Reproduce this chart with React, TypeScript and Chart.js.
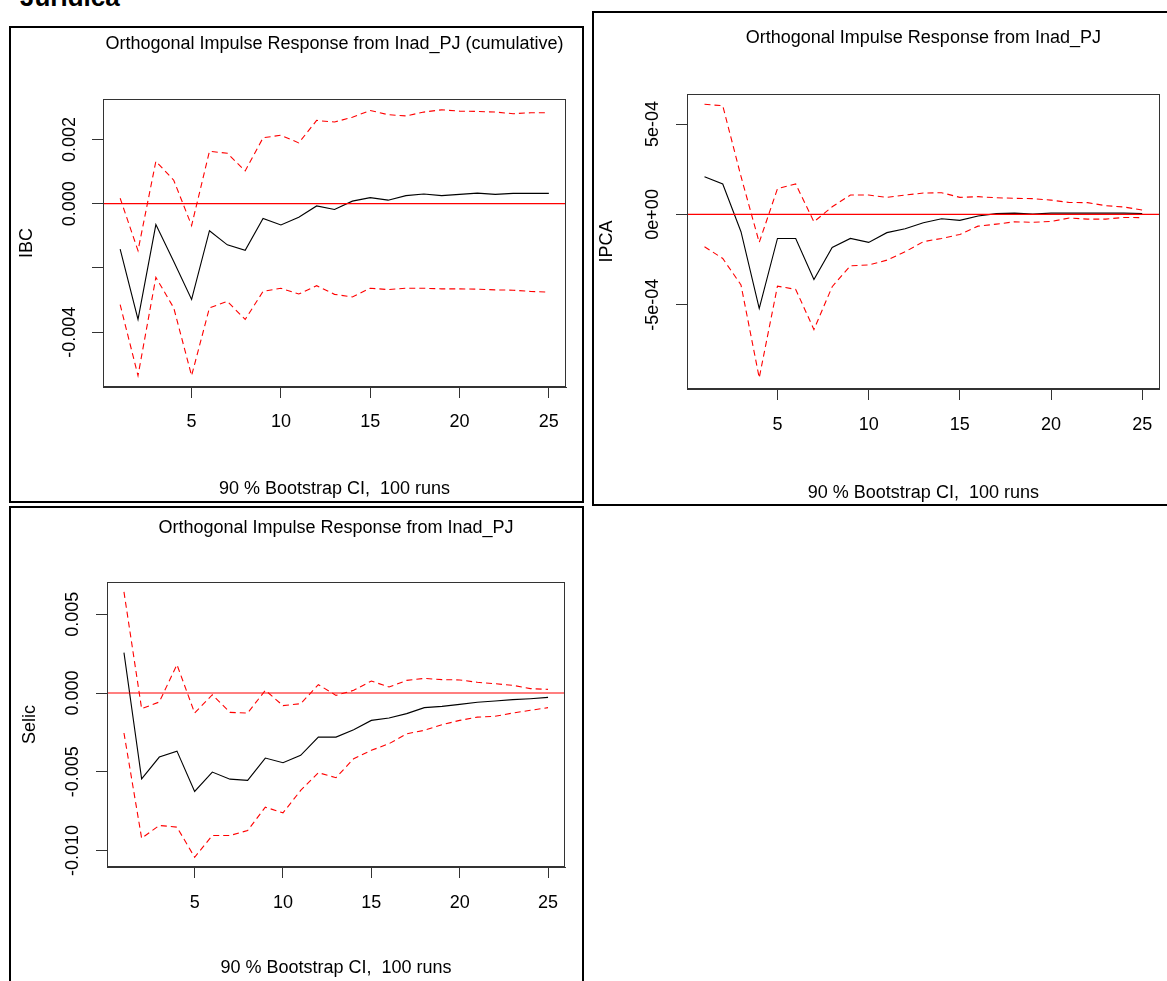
import React, { useEffect, useRef } from 'react';
import { Chart, registerables } from 'chart.js';

Chart.register(...registerables);

const FONT = '"Liberation Sans", Arial, sans-serif';
Chart.defaults.font.family = FONT;
Chart.defaults.color = '#000';

// ---- data ----
const horizons = [1, 2, 3, 4, 5, 6, 7, 8, 9, 10, 11, 12, 13, 14, 15, 16, 17, 18, 19, 20, 21, 22, 23, 24, 25];
const xTicks = [5, 10, 15, 20, 25];
const xLimits = [0.04, 25.96];

const ibcResp = [-0.00141, -0.0036, -0.00065, -0.0018, -0.00298, -0.00084, -0.00128, -0.00145, -0.00046, -0.00066, -0.00042, -0.00007, -0.00018, 0.00008, 0.00019, 0.00011, 0.00025, 0.0003, 0.00025, 0.00029, 0.00033, 0.00029, 0.00032, 0.00032, 0.00032];
const ibcUpper = [0.00017, -0.00146, 0.00132, 0.00073, -0.00068, 0.00163, 0.00157, 0.00102, 0.00205, 0.00213, 0.00189, 0.00259, 0.00254, 0.00269, 0.0029, 0.00277, 0.00273, 0.00285, 0.00292, 0.00288, 0.00287, 0.00285, 0.0028, 0.00283, 0.00283];
const ibcLower = [-0.00314, -0.00535, -0.00229, -0.00324, -0.00535, -0.00324, -0.00304, -0.0036, -0.00273, -0.00263, -0.00281, -0.00255, -0.00282, -0.0029, -0.00263, -0.00267, -0.00263, -0.00263, -0.00265, -0.00265, -0.00266, -0.00268, -0.00269, -0.00273, -0.00275];
const ibcYTicks = [-0.004, -0.002, 0, 0.002];
const ibcYTickLabels = ['-0.004', '', '0.000', '0.002'];
const ibcYLimits = [-0.005702, 0.003257];

const ipcaResp = [2.08e-4, 1.68e-4, -0.96e-4, -5.2e-4, -1.33e-4, -1.33e-4, -3.6e-4, -1.83e-4, -1.33e-4, -1.55e-4, -1.01e-4, -0.79e-4, -0.46e-4, -0.24e-4, -0.33e-4, -0.09e-4, 0.04e-4, 0.07e-4, 0.02e-4, 0.07e-4, 0.07e-4, 0.07e-4, 0.07e-4, 0.07e-4, 0.05e-4];
const ipcaUpper = [6.09e-4, 6.01e-4, 2.1e-4, -1.55e-4, 1.42e-4, 1.68e-4, -0.41e-4, 0.42e-4, 1.07e-4, 1.07e-4, 0.94e-4, 1.07e-4, 1.18e-4, 1.2e-4, 0.94e-4, 0.98e-4, 0.92e-4, 0.89e-4, 0.87e-4, 0.79e-4, 0.66e-4, 0.65e-4, 0.48e-4, 0.41e-4, 0.24e-4];
const ipcaLower = [-1.79e-4, -2.44e-4, -3.9e-4, -9.04e-4, -3.97e-4, -4.15e-4, -6.37e-4, -4.0e-4, -2.84e-4, -2.8e-4, -2.53e-4, -2.07e-4, -1.51e-4, -1.33e-4, -1.11e-4, -0.65e-4, -0.54e-4, -0.41e-4, -0.44e-4, -0.39e-4, -0.2e-4, -0.26e-4, -0.26e-4, -0.17e-4, -0.18e-4];
const ipcaYTicks = [-5e-4, 0, 5e-4];
const ipcaYTickLabels = ['-5e-04', '0e+00', '5e-04'];
const ipcaYLimits = [-9.66e-4, 6.66e-4];

const selicResp = [0.00256, -0.00545, -0.00407, -0.00369, -0.00625, -0.00502, -0.00547, -0.00555, -0.00413, -0.00443, -0.00396, -0.0028, -0.0028, -0.00233, -0.00174, -0.00159, -0.00131, -0.00093, -0.00085, -0.00072, -0.00059, -0.00051, -0.00042, -0.00036, -0.00028];
const selicUpper = [0.00642, -0.001, -0.00057, 0.0018, -0.00127, -0.00011, -0.00123, -0.00127, 0.00017, -0.0008, -0.00068, 0.00053, -0.00015, 0.00017, 0.00076, 0.00038, 0.0008, 0.00093, 0.00085, 0.00083, 0.00068, 0.00059, 0.00049, 0.00028, 0.00023];
const selicLower = [-0.00254, -0.00922, -0.00841, -0.00852, -0.01043, -0.00905, -0.00905, -0.00873, -0.00725, -0.00761, -0.00619, -0.00506, -0.00538, -0.00417, -0.00364, -0.00322, -0.00259, -0.00237, -0.00201, -0.00174, -0.00153, -0.00148, -0.00127, -0.0011, -0.00093];
const selicYTicks = [-0.01, -0.005, 0, 0.005];
const selicYTickLabels = ['-0.010', '-0.005', '0.000', '0.005'];
const selicYLimits = [-0.01105, 0.00705];

const titleCumulative = 'Orthogonal Impulse Response from Inad_PJ (cumulative)';
const titlePlain = 'Orthogonal Impulse Response from Inad_PJ';
const footerText = '90 % Bootstrap CI,  100 runs';

// ---- plugins ----
const framePlugin = {
  id: 'plotFrame',
  afterDraw(chart: any) {
    const { ctx, chartArea } = chart;
    ctx.save();
    ctx.strokeStyle = '#333';
    ctx.lineWidth = 1;
    const l = Math.round(chartArea.left) + 0.5;
    const t = Math.round(chartArea.top) + 0.5;
    const r = Math.round(chartArea.right) - 0.5;
    const b = Math.round(chartArea.bottom) - 0.5;
    ctx.strokeRect(l, t, r - l, b - t);
    ctx.restore();
  },
};

const titlePlugin = {
  id: 'panelTitle',
  afterDraw(chart: any, _args: any, opts: any) {
    const { ctx, chartArea } = chart;
    ctx.save();
    ctx.font = `18px ${FONT}`;
    ctx.fillStyle = '#000';
    ctx.textAlign = 'center';
    ctx.textBaseline = 'middle';
    ctx.fillText(opts.text, (chartArea.left + chartArea.right) / 2, opts.y);
    ctx.restore();
  },
};

type PanelProps = {
  box: { left: number; top: number; width: number; height: number };
  title: string;
  titleY: number;
  yLabel: string;
  resp: number[];
  upper: number[];
  lower: number[];
  yTicks: number[];
  yTickLabels: string[];
  yLimits: number[];
  padTop: number;
  padRight: number;
  yAxisWidth: number;
  xAxisHeight: number;
  xTickPad: number;
  yTickPad: number;
  yTitlePad: number;
  footerPad: number;
};

function Panel(p: PanelProps) {
  const ref = useRef<HTMLCanvasElement>(null);
  const cw = p.box.width - 4;
  const ch = p.box.height - 4;

  useEffect(() => {
    const canvas = ref.current;
    if (!canvas) return;
    const toPts = (arr: number[]) => horizons.map((h, i) => ({ x: h, y: arr[i] }));
    const chart = new Chart(canvas, {
      type: 'line',
      data: {
        datasets: [
          {
            data: xLimits.map((x) => ({ x, y: 0 })),
            borderColor: '#ff0000',
            borderWidth: 1.2,
            pointRadius: 0,
          },
          {
            data: toPts(p.resp),
            borderColor: '#000',
            borderWidth: 1.1,
            pointRadius: 0,
            tension: 0,
          },
          {
            data: toPts(p.upper),
            borderColor: '#ff0000',
            borderWidth: 1.1,
            borderDash: [6, 4],
            pointRadius: 0,
            tension: 0,
          },
          {
            data: toPts(p.lower),
            borderColor: '#ff0000',
            borderWidth: 1.1,
            borderDash: [6, 4],
            pointRadius: 0,
            tension: 0,
          },
        ],
      } as any,
      options: {
        animation: false,
        responsive: false,
        devicePixelRatio: 1,
        events: [],
        layout: { padding: { left: 0, top: p.padTop, right: p.padRight, bottom: 0 } },
        plugins: {
          legend: { display: false },
          tooltip: { enabled: false },
          title: { display: false },
          panelTitle: { text: p.title, y: p.titleY },
        } as any,
        scales: {
          x: {
            type: 'linear',
            min: xLimits[0],
            max: xLimits[1],
            afterBuildTicks: (s: any) => {
              s.ticks = xTicks.map((v) => ({ value: v }));
            },
            afterFit: (s: any) => {
              s.height = p.xAxisHeight;
            },
            ticks: {
              autoSkip: false,
              maxRotation: 0,
              minRotation: 0,
              padding: p.xTickPad,
              font: { size: 18, family: FONT },
              color: '#000',
              callback: (v: any) => String(v),
            },
            grid: { drawOnChartArea: false, drawTicks: true, tickLength: 11, color: '#333', lineWidth: 1 },
            border: { display: true, color: '#333', width: 1 },
            title: {
              display: true,
              text: footerText,
              font: { size: 18, family: FONT },
              color: '#000',
              padding: { top: 0, bottom: p.footerPad },
            },
          },
          y: {
            type: 'linear',
            min: p.yLimits[0],
            max: p.yLimits[1],
            afterBuildTicks: (s: any) => {
              s.ticks = p.yTicks.map((v) => ({ value: v }));
            },
            afterFit: (s: any) => {
              s.width = p.yAxisWidth;
            },
            ticks: {
              autoSkip: false,
              minRotation: 90,
              maxRotation: 90,
              crossAlign: 'center',
              padding: p.yTickPad,
              font: { size: 18, family: FONT },
              color: '#000',
              callback: (_v: any, i: number) => p.yTickLabels[i],
            },
            grid: { drawOnChartArea: false, drawTicks: true, tickLength: 11, color: '#333', lineWidth: 1 },
            border: { display: true, color: '#333', width: 1 },
            title: {
              display: true,
              text: p.yLabel,
              font: { size: 18, family: FONT },
              color: '#000',
              padding: { top: p.yTitlePad, bottom: 0 },
            },
          },
        },
      } as any,
      plugins: [framePlugin, titlePlugin],
    });
    return () => chart.destroy();
  }, []);

  return (
    <div
      style={{
        position: 'absolute',
        left: p.box.left,
        top: p.box.top,
        width: p.box.width,
        height: p.box.height,
        border: '2px solid #000',
        boxSizing: 'border-box',
        background: '#fff',
      }}
    >
      <canvas ref={ref} width={cw} height={ch} style={{ display: 'block', width: cw, height: ch }} />
    </div>
  );
}

export default function App() {
  return (
    <div
      style={{
        position: 'fixed',
        left: 0,
        top: 0,
        width: 1167,
        height: 981,
        overflow: 'hidden',
        background: '#fff',
      }}
    >
      <div
        style={{
          position: 'absolute',
          left: 20,
          top: -16,
          font: `bold 26px ${FONT}`,
          lineHeight: '26px',
          color: '#000',
          whiteSpace: 'nowrap',
        }}
      >
        Jurídica
      </div>
      <Panel
        box={{ left: 9, top: 26, width: 575, height: 477 }}
        title={titleCumulative}
        titleY={16}
        yLabel="IBC"
        resp={ibcResp}
        upper={ibcUpper}
        lower={ibcLower}
        yTicks={ibcYTicks}
        yTickLabels={ibcYTickLabels}
        yLimits={ibcYLimits}
        padTop={71}
        padRight={16}
        yAxisWidth={92}
        xAxisHeight={114}
        xTickPad={13}
        yTickPad={-4}
        yTitlePad={5}
        footerPad={1}
      />
      <Panel
        box={{ left: 592, top: 11, width: 577, height: 495 }}
        title={titlePlain}
        titleY={25}
        yLabel="IPCA"
        resp={ipcaResp}
        upper={ipcaUpper}
        lower={ipcaLower}
        yTicks={ipcaYTicks}
        yTickLabels={ipcaYTickLabels}
        yLimits={ipcaYLimits}
        padTop={81}
        padRight={7}
        yAxisWidth={93}
        xAxisHeight={115}
        xTickPad={14.5}
        yTickPad={-3}
        yTitlePad={2.7}
        footerPad={0}
      />
      <Panel
        box={{ left: 9, top: 506, width: 575, height: 477 }}
        title={titlePlain}
        titleY={20}
        yLabel="Selic"
        resp={selicResp}
        upper={selicUpper}
        lower={selicLower}
        yTicks={selicYTicks}
        yTickLabels={selicYTickLabels}
        yLimits={selicYLimits}
        padTop={74}
        padRight={17}
        yAxisWidth={96}
        xAxisHeight={114}
        xTickPad={14.5}
        yTickPad={-2.5}
        yTitlePad={8}
        footerPad={2}
      />
    </div>
  );
}
